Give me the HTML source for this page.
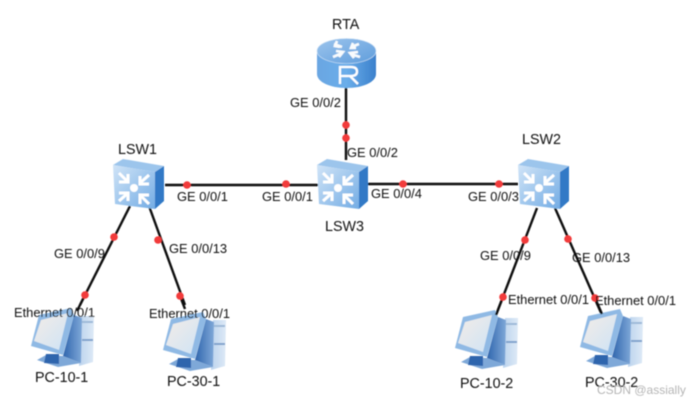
<!DOCTYPE html>
<html>
<head>
<meta charset="utf-8">
<style>
html,body{margin:0;padding:0;background:#fff;width:692px;height:403px;overflow:hidden}
svg{display:block}
text{font-family:"Liberation Sans",sans-serif;font-size:12.9px;fill:#111}
text.n{font-size:14.3px}
</style>
</head>
<body>
<svg width="692" height="403" viewBox="0 0 692 403" xmlns="http://www.w3.org/2000/svg">
<defs>
<filter id="b" x="-5%" y="-5%" width="110%" height="110%"><feGaussianBlur stdDeviation="0.5"/></filter>
<linearGradient id="rside" x1="0" y1="0" x2="1" y2="0">
<stop offset="0" stop-color="#6ba6e2"/><stop offset=".5" stop-color="#6aaeea"/><stop offset="1" stop-color="#3b80cc"/>
</linearGradient>
<linearGradient id="rtop" x1="0" y1="0" x2="1" y2="1">
<stop offset="0" stop-color="#9cc4ec"/><stop offset="1" stop-color="#5f9ddc"/>
</linearGradient>
<linearGradient id="swf" x1="0" y1="0" x2="1" y2="1">
<stop offset="0" stop-color="#d0e4f7"/><stop offset="1" stop-color="#73ace4"/>
</linearGradient>
<linearGradient id="scr" x1="0" y1="0" x2="1" y2="1">
<stop offset="0" stop-color="#f3ece6"/><stop offset="1" stop-color="#cfe3f6"/>
</linearGradient>
<linearGradient id="dk" x1="0" y1="0" x2="1" y2="0">
<stop offset="0" stop-color="#2f65ad"/><stop offset="1" stop-color="#7fa8d8"/>
</linearGradient>
<linearGradient id="tw" x1="0" y1="0" x2="1" y2="0">
<stop offset="0" stop-color="#bcd4ee"/><stop offset="1" stop-color="#dde9f6"/>
</linearGradient>
<g id="sw">
<path d="M0 7 L10 1 L51 8 L42 14Z" fill="#9cc5ec"/>
<path d="M42 14 L51 8 L51 43 L42 51Z" fill="#3179c6"/>
<path d="M0 7 L42 14 L42 51 L2 46Z" fill="url(#swf)"/>
<circle cx="21" cy="30" r="4" fill="#fff"/>
<g stroke="#fff" stroke-width="3" fill="none">
<path d="M6 15 L15 24 M6 24 H15 V16"/>
<path d="M36 17 L27 25 M36 26 H27 V18"/>
<path d="M6 43 L15 35 M6 35 H15 V43"/>
<path d="M36 46 L27 37 M36 37 H27 V46"/>
</g>
</g>
<g id="pc">
<path d="M50 11 L63 11 L62 57 L48 61Z" fill="url(#tw)"/>
<path d="M6 55 L15 50 L32 51 L50 58 L27 62Z" fill="#7ea8d8"/>
<path d="M15 49 L28 49 L28 59 L13 58Z" fill="#2f65ad"/>
<path d="M43 10 L51 13 L50 58 L32 51Z" fill="url(#dk)"/>
<path d="M8 10 L40 3 L43 10 L32 50 L0 41Z" fill="#8fb9e4"/>
<path d="M10 15 L37 8 L28 45 L3 36Z" fill="url(#scr)"/>
<rect x="51" y="16" width="11" height="2" fill="#9db9d8"/>
<rect x="51" y="34" width="11" height="2" fill="#7fa2cc"/>
</g>
</defs>
<rect width="692" height="403" fill="#fff"/>
<g filter="url(#b)">
<!-- links -->
<g stroke="#0c0c0c" stroke-width="2.4" fill="none">
<path d="M346 86 V160"/>
<path d="M165 185 H318"/>
<path d="M368 184 H518"/>
<path d="M130 206 L80 305"/>
<path d="M149 206 L185 305"/>
<path d="M537 208 L496 315"/>
<path d="M555 208 L602 315"/>
</g>
<!-- router -->
<path d="M317 50 V74 C317 82 330 88 346.500 88 C363 88 376 82 376 74 V50Z" fill="url(#rside)"/>
<ellipse cx="346.500" cy="51" rx="29.500" ry="12.500" fill="url(#rtop)" stroke="#cfe3f6" stroke-width=".6"/>
<g stroke="#fff" stroke-width="2.6" fill="none" opacity=".95">
<path d="M334 44 L342 47 M337 41 L335 46 L340 47"/>
<path d="M359 44 L351 47 M353 43 L351 48 L356 48"/>
<path d="M333 57 L342 53 M336 51 L343 52 L339 57"/>
<path d="M360 57 L351 54 M358 52 L350 53 L354 58"/>
</g>
<path d="M340 84 V67 H351 Q357 67 357 71.500 Q357 76 351 76 H341 M350 76 L358 84" fill="none" stroke="#fff" stroke-width="2.300"/>
<!-- switches -->
<use href="#sw" x="113" y="158"/>
<use href="#sw" x="317" y="158"/>
<use href="#sw" x="518" y="158"/>
<!-- PCs -->
<use href="#pc" x="31" y="305"/>
<use href="#pc" x="163" y="309"/>
<use href="#pc" x="455" y="307"/>
<use href="#pc" x="580" y="306"/>
<!-- link again over PC top -->
<g stroke="#0c0c0c" stroke-width="2.4" fill="none">
<path d="M85 295 L77 311"/>
<path d="M180 296 L185 309"/>
<path d="M503 297 L496 315"/>
<path d="M595 298 L602 314"/>
</g>
<!-- dots -->
<g fill="#f23a3a">
<circle cx="346" cy="125" r="3.800"/>
<circle cx="346" cy="138" r="3.800"/>
<circle cx="187" cy="185" r="3.800"/>
<circle cx="286" cy="184" r="3.800"/>
<circle cx="403" cy="184" r="3.800"/>
<circle cx="499" cy="184" r="3.800"/>
<circle cx="114" cy="237" r="3.800"/>
<circle cx="85" cy="295" r="3.800"/>
<circle cx="158" cy="240" r="3.800"/>
<circle cx="180" cy="296" r="3.800"/>
<circle cx="525" cy="240" r="3.800"/>
<circle cx="503" cy="297" r="3.800"/>
<circle cx="568" cy="239" r="3.800"/>
<circle cx="595" cy="298" r="3.800"/>
</g>
<!-- labels -->
<text class="n" x="332" y="29">RTA</text>
<text x="290" y="107">GE 0/0/2</text>
<text x="347" y="157">GE 0/0/2</text>
<text class="n" x="118" y="154">LSW1</text>
<text x="177" y="201">GE 0/0/1</text>
<text x="262" y="201">GE 0/0/1</text>
<text x="371" y="198">GE 0/0/4</text>
<text x="468" y="201">GE 0/0/3</text>
<text class="n" x="325" y="231">LSW3</text>
<text class="n" x="522" y="144">LSW2</text>
<text x="54" y="258">GE 0/0/9</text>
<text x="169" y="253">GE 0/0/13</text>
<text x="480" y="260">GE 0/0/9</text>
<text x="572" y="262">GE 0/0/13</text>
<text x="14" y="317">Ethernet 0/0/1</text>
<text x="149" y="318">Ethernet 0/0/1</text>
<text x="508" y="304">Ethernet 0/0/1</text>
<text x="595" y="305">Ethernet 0/0/1</text>
<text class="n" x="35" y="382">PC-10-1</text>
<text class="n" x="167" y="386">PC-30-1</text>
<text class="n" x="460" y="388">PC-10-2</text>
<text class="n" x="585" y="387">PC-30-2</text>
<text x="597" y="394" style="fill:#b5b5b5;font-size:12px">CSDN @assially</text>
</g>
</svg>
</body>
</html>
